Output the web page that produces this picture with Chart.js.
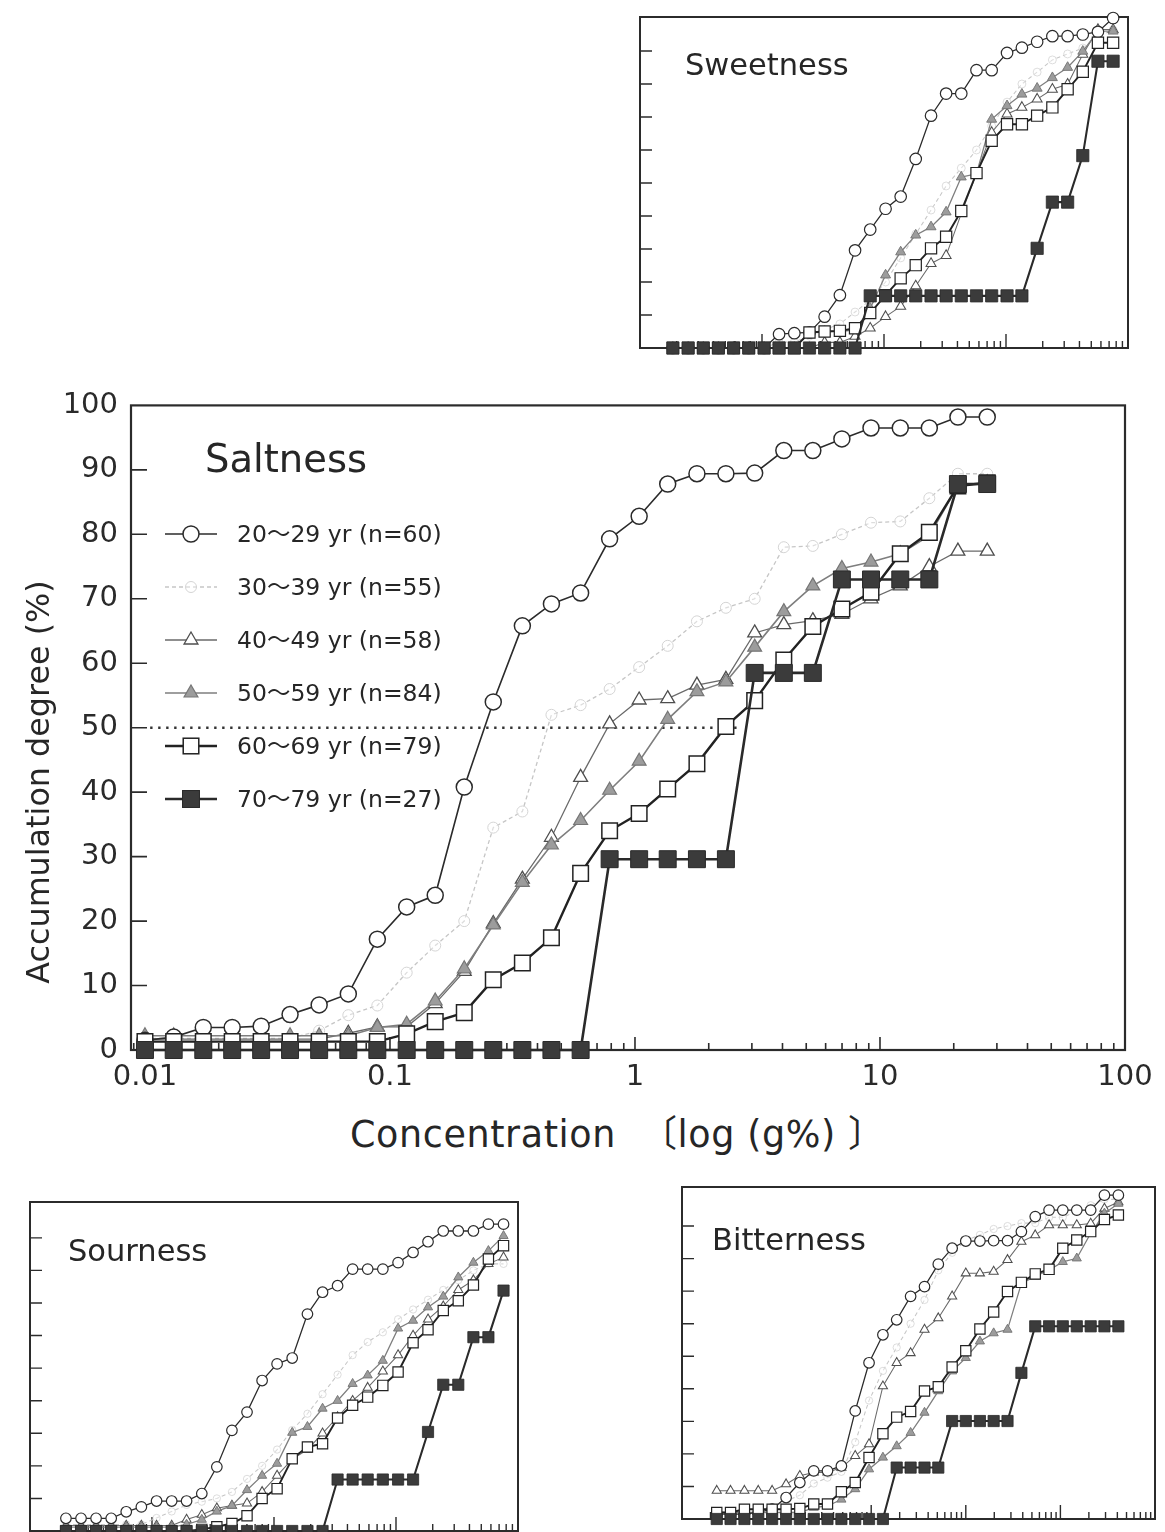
<!DOCTYPE html>
<html>
<head>
<meta charset="utf-8">
<title>Accumulation degree by age group</title>
<script src="https://cdn.jsdelivr.net/npm/chart.js@4.4.1/dist/chart.umd.min.js"></script>
<style>
  html, body { margin: 0; padding: 0; background: #fff; }
  body { position: relative; width: 1165px; height: 1532px; overflow: hidden;
         font-family: "DejaVu Sans", "Noto Sans CJK JP", sans-serif; color: #262626; }
  canvas { position: absolute; }
  .label { position: absolute; white-space: pre; line-height: 1; }
</style>
</head>
<body>
<canvas id="saltChart"></canvas>
<canvas id="sweetChart"></canvas>
<canvas id="sourChart"></canvas>
<canvas id="bitterChart"></canvas>

<div class="label" style="left:205px; top:440px; font-size:38.5px;">Saltness</div>
<div class="label" style="left:685px; top:50px; font-size:30.5px;">Sweetness</div>
<div class="label" style="left:68px; top:1236px; font-size:30.5px;">Sourness</div>
<div class="label" style="left:712px; top:1225px; font-size:30.5px;">Bitterness</div>
<div class="label" style="left:350px; top:1117px; font-size:36.5px; letter-spacing:0.6px;">Concentration  〔log (g%) 〕</div>
<div class="label" style="left:38px; top:782px; font-size:31.8px; transform: translate(-50%, -50%) rotate(-90deg);">Accumulation degree (%)</div>
<svg id="legendMarks" style="position:absolute; left:0; top:0;" width="1165" height="1532"></svg>

<script>
// ---------- data ----------
// concentration steps (g%) of each taste
const saltConc = [0.0100, 0.0131, 0.0173, 0.0227, 0.0298, 0.0391, 0.0514, 0.0676, 0.0888, 0.117,
                  0.153, 0.201, 0.264, 0.347, 0.456, 0.600, 0.788, 1.04, 1.36, 1.79,
                  2.35, 3.08, 4.05, 5.32, 6.99, 9.19, 12.1, 15.9, 20.8, 27.4];
const sweetConc = [0.0186, 0.0248, 0.0330, 0.0439, 0.0585, 0.0779, 0.104, 0.138, 0.184, 0.245,
                   0.326, 0.435, 0.579, 0.771, 1.03, 1.37, 1.82, 2.43, 3.23, 4.30,
                   5.73, 7.63, 10.2, 13.5, 18.0, 24.0, 32.0, 42.6, 56.7, 75.5];
const sourConc = [0.0197, 0.0262, 0.0348, 0.0463, 0.0615, 0.0818, 0.109, 0.145, 0.192, 0.256,
                  0.340, 0.452, 0.601, 0.799, 1.06, 1.41, 1.88, 2.50, 3.32, 4.41,
                  5.86, 7.80, 10.4, 13.8, 18.3, 24.4, 32.4, 43.1, 57.2, 76.1];
const bitterConc = [0.0000233, 0.0000326, 0.0000457, 0.0000640, 0.0000897, 0.000126, 0.000176, 0.000247, 0.000345, 0.000484,
                    0.000678, 0.000949, 0.00133, 0.00186, 0.00261, 0.00366, 0.00512, 0.00717, 0.0100, 0.0141,
                    0.0197, 0.0276, 0.0387, 0.0542, 0.0759, 0.106, 0.149, 0.209, 0.292, 0.410];

const ageGroups = ["20〜29 yr (n=60)", "30〜39 yr (n=55)", "40〜49 yr (n=58)",
                   "50〜59 yr (n=84)", "60〜69 yr (n=79)", "70〜79 yr (n=27)"];

// saltness (%)
const salt20 = [1.5, 2.0, 3.5, 3.5, 3.7, 5.5, 7.0, 8.7, 17.2, 22.2, 24.0, 40.8, 54.0, 65.8, 69.2, 70.9, 79.3, 82.8, 87.8, 89.4, 89.4, 89.5, 93.0, 93.0, 94.8, 96.5, 96.5, 96.5, 98.2, 98.2];
const salt30 = [1.8, 1.8, 1.8, 1.8, 1.8, 1.8, 3.0, 5.4, 6.9, 12.0, 16.2, 20.0, 34.5, 37.0, 52.0, 53.5, 56.0, 59.4, 62.7, 66.5, 68.6, 70.0, 78.0, 78.2, 80.0, 81.8, 82.0, 85.6, 89.4, 89.4];
const salt40 = [1.7, 1.7, 1.7, 1.7, 1.7, 1.7, 1.7, 2.6, 3.6, 3.6, 7.2, 12.2, 19.6, 26.5, 33.0, 42.3, 50.6, 54.3, 54.5, 56.6, 57.5, 64.7, 66.0, 66.6, 67.6, 70.0, 72.0, 75.0, 77.4, 77.4];
const salt50 = [2.2, 2.2, 2.2, 2.2, 2.2, 2.2, 2.2, 2.2, 3.5, 4.0, 7.6, 12.6, 19.4, 26.0, 31.8, 35.6, 40.3, 44.8, 51.3, 55.6, 57.1, 62.5, 68.0, 72.0, 74.7, 75.7, 77.0, 79.8, 87.5, 88.0];
const salt60 = [1.3, 1.3, 1.3, 1.3, 1.3, 1.3, 1.3, 1.3, 1.3, 2.5, 4.4, 5.8, 10.9, 13.5, 17.4, 27.4, 34.0, 36.7, 40.5, 44.4, 50.2, 54.2, 60.5, 65.7, 68.4, 71.0, 77.0, 80.3, 87.5, 88.0];
const salt70 = [0, 0, 0, 0, 0, 0, 0, 0, 0, 0, 0, 0, 0, 0, 0, 0, 29.6, 29.6, 29.6, 29.6, 29.6, 58.5, 58.5, 58.5, 73.0, 73.0, 73.0, 73.0, 87.8, 87.8];

// sweetness (%)
const sweet20 = [0, 0, 0, 0, 0, 0, 0, 4.2, 4.5, 4.7, 9.5, 16.0, 29.6, 35.9, 42.2, 45.9, 57.3, 70.4, 77.1, 77.1, 84.2, 84.2, 89.4, 91.0, 92.8, 94.5, 94.5, 95.0, 95.8, 100];
const sweet30 = [0, 0, 0, 0, 0, 0, 0, 1.8, 1.8, 3.6, 5.5, 7.3, 10.9, 14.5, 20.0, 27.3, 34.5, 41.8, 49.1, 54.5, 60.0, 67.3, 74.5, 80.0, 83.6, 87.3, 89.1, 90.9, 94.5, 96.4];
const sweet40 = [0, 0, 0, 0, 0, 0, 0, 0, 0, 0, 1.7, 1.7, 3.5, 6.0, 9.5, 12.6, 18.8, 25.6, 28.0, 40.7, 52.8, 65.3, 70.9, 72.9, 75.4, 78.4, 79.9, 89.0, 96.5, 96.5];
const sweet50 = [0, 0, 0, 0, 0, 0, 0, 0, 0, 4.5, 5.0, 5.0, 5.5, 12.0, 22.1, 29.1, 34.2, 36.7, 41.2, 51.8, 52.8, 69.3, 73.4, 76.9, 78.7, 81.9, 85.0, 89.9, 96.0, 96.0];
const sweet60 = [0, 0, 0, 0, 0, 0, 0, 0, 0, 4.7, 5.0, 5.2, 6.0, 10.6, 16.0, 21.1, 25.1, 30.2, 33.7, 41.5, 53.0, 62.8, 67.8, 67.8, 70.4, 72.9, 78.4, 83.7, 92.5, 92.5];
const sweet70 = [0, 0, 0, 0, 0, 0, 0, 0, 0, 0, 0, 0, 0, 15.8, 15.8, 15.8, 15.8, 15.8, 15.8, 15.8, 15.8, 15.8, 15.8, 15.8, 30.2, 44.2, 44.2, 58.3, 86.9, 86.9];

// sourness (%)
const sour20 = [3.9, 3.9, 3.9, 3.9, 5.9, 7.4, 9.2, 9.2, 9.2, 11.5, 19.7, 30.9, 36.5, 46.2, 51.3, 53.1, 66.6, 73.3, 75.3, 80.4, 80.4, 80.4, 82.4, 85.5, 88.8, 92.1, 92.1, 92.1, 94.2, 94.2];
const sour30 = [2.0, 2.0, 2.0, 2.0, 2.0, 2.0, 4.0, 6.0, 8.0, 9.0, 10.0, 12.0, 16.0, 20.0, 25.0, 31.0, 36.0, 42.0, 48.0, 54.0, 58.0, 61.0, 65.0, 68.0, 71.0, 74.0, 77.0, 80.0, 82.0, 82.0];
const sour40 = [1.7, 1.7, 1.7, 1.7, 1.7, 1.7, 1.7, 1.7, 3.5, 5.0, 7.0, 7.8, 8.5, 12.0, 17.0, 22.0, 25.0, 30.0, 35.0, 40.0, 44.0, 49.0, 54.0, 60.0, 65.0, 69.0, 74.0, 77.0, 82.0, 84.0];
const sour50 = [1.2, 1.2, 1.2, 1.2, 1.2, 1.2, 1.2, 1.2, 2.0, 3.5, 6.0, 7.8, 12.6, 17.0, 20.7, 30.2, 32.0, 37.6, 40.0, 45.2, 47.8, 52.3, 62.2, 64.6, 68.7, 72.0, 77.9, 82.4, 86.0, 90.6];
const sour60 = [0, 0, 0, 0, 0, 0, 0, 0, 0, 0.5, 1.3, 2.3, 4.7, 10.0, 13.0, 22.2, 25.8, 26.8, 34.7, 38.6, 41.1, 44.7, 48.8, 57.8, 61.8, 67.7, 70.7, 75.5, 83.5, 87.6];
const sour70 = [0, 0, 0, 0, 0, 0, 0, 0, 0, 0, 0, 0, 0, 0, 0, 0, 0, 0, 15.8, 15.8, 15.8, 15.8, 15.8, 15.8, 30.4, 44.9, 44.9, 59.5, 59.5, 73.8];

// bitterness (%)
const bit20 = [1.5, 1.5, 1.5, 2.0, 3.0, 6.6, 11.2, 14.8, 14.8, 16.3, 33.2, 48.0, 56.6, 61.2, 68.4, 71.4, 78.3, 83.2, 85.4, 85.4, 85.5, 85.5, 88.3, 92.9, 94.9, 94.9, 94.9, 94.9, 99.5, 99.5];
const bit30 = [1.8, 1.8, 1.8, 1.8, 3.6, 5.5, 7.3, 10.9, 12.7, 14.5, 23.6, 36.4, 45.5, 52.7, 60.0, 67.3, 76.4, 81.8, 85.5, 87.3, 89.1, 90.0, 90.9, 90.9, 92.7, 92.7, 94.5, 96.4, 98.2, 98.2];
const bit40 = [8.7, 8.7, 8.7, 8.7, 8.7, 10.7, 13.3, 14.3, 14.3, 15.8, 19.4, 23.0, 40.8, 48.0, 51.0, 58.2, 61.7, 68.4, 75.5, 75.5, 76.0, 79.6, 85.2, 87.2, 90.3, 90.3, 90.3, 90.8, 95.4, 97.4];
const bit50 = [2.0, 2.0, 2.0, 2.0, 2.0, 2.0, 2.0, 3.5, 4.0, 6.0, 9.2, 15.3, 18.9, 22.4, 26.5, 32.7, 39.3, 45.4, 49.5, 54.6, 57.1, 58.2, 72.4, 74.5, 76.5, 79.0, 80.1, 87.8, 93.9, 96.9];
const bit60 = [2.0, 2.0, 3.0, 3.0, 3.0, 3.0, 3.2, 4.6, 4.6, 8.4, 11.2, 18.9, 26.2, 31.3, 33.0, 39.3, 40.6, 46.7, 51.7, 58.4, 63.6, 69.9, 72.7, 75.3, 76.7, 83.2, 85.7, 88.3, 92.0, 93.4];
const bit70 = [0, 0, 0, 0, 0, 0, 0, 0, 0, 0, 0, 0, 0, 15.8, 15.8, 15.8, 15.8, 30.1, 30.1, 30.1, 30.1, 30.1, 44.9, 59.2, 59.2, 59.2, 59.2, 59.2, 59.2, 59.2];

// axis ticks
const saltXTicks = [0.01, 0.1, 1, 10, 100];
const saltYTicks = [0, 10, 20, 30, 40, 50, 60, 70, 80, 90, 100];
const innerYTicks = [10, 20, 30, 40, 50, 60, 70, 80, 90];

// 50 % reference (dotted)
const halfLineX = [0.0105, 2.68];
const halfLineY = [50, 50];

// ---------- styles ----------
const ageStyles = [
  { line: "#2b2b2b", width: 1.6, dash: [],     point: "circle",   fill: "#ffffff", edge: "#2b2b2b", edgeW: 1.5, r: 8,  order: 2 },
  { line: "#c6c6c6", width: 1.3, dash: [4, 3], point: "circle",   fill: "rgba(255,255,255,0.4)", edge: "#d4d4d4", edgeW: 1, r: 5.5, order: 5 },
  { line: "#6a6a6a", width: 1.3, dash: [],     point: "triangle", fill: "#ffffff", edge: "#4e4e4e", edgeW: 1.3, r: 8,  order: 4 },
  { line: "#7e7e7e", width: 1.6, dash: [],     point: "triangle", fill: "#9c9c9c", edge: "#767676", edgeW: 1.2, r: 8,  order: 3 },
  { line: "#222222", width: 2.4, dash: [],     point: "rect",     fill: "#ffffff", edge: "#222222", edgeW: 1.5, r: 11, order: 1 },
  { line: "#2a2a2a", width: 2.6, dash: [],     point: "rect",     fill: "#3b3b3b", edge: "#2a2a2a", edgeW: 1,   r: 12, order: 0 }
];

// frame + inward tick marks
const frameTicks = {
  id: "frameTicks",
  beforeDatasetsDraw(chart, args, opts) {
    const { ctx, chartArea: a, scales: { x, y } } = chart;
    ctx.save();
    ctx.strokeStyle = "#2b2b2b";
    ctx.lineWidth = opts.width;
    ctx.strokeRect(a.left, a.top, a.right - a.left, a.bottom - a.top);
    ctx.lineWidth = opts.tickWidth;
    ctx.beginPath();
    innerYTicks.forEach(v => {
      const py = y.getPixelForValue(v);
      ctx.moveTo(a.left, py);
      ctx.lineTo(a.left + opts.yLen, py);
    });
    const lo = Math.floor(Math.log10(x.min)), hi = Math.ceil(Math.log10(x.max));
    for (let e = lo; e <= hi; e++) {
      for (let m = 1; m <= 9; m++) {
        const v = m * Math.pow(10, e);
        if (v < x.min || v > x.max * 1.0001) continue;
        const px = x.getPixelForValue(v);
        ctx.moveTo(px, a.bottom);
        ctx.lineTo(px, a.bottom - (m === 1 ? opts.majorLen : opts.minorLen));
      }
    }
    ctx.stroke();
    ctx.restore();
  }
};

function buildDatasets(conc, seriesList, size, lineScale) {
  return seriesList.map((vals, g) => {
    const st = ageStyles[g];
    return {
      label: ageGroups[g],
      data: conc.map((x, i) => ({ x: x, y: vals[i] })),
      borderColor: st.line,
      borderWidth: st.width * lineScale,
      borderDash: st.dash,
      pointStyle: st.point,
      pointRadius: st.r * size,
      pointBackgroundColor: st.fill,
      pointBorderColor: st.edge,
      pointBorderWidth: st.edgeW * lineScale,
      tension: 0,
      order: st.order,
      clip: 18
    };
  });
}

// ---------- main chart: saltness ----------
const saltCanvas = document.getElementById("saltChart");
saltCanvas.width = 1165;
saltCanvas.height = 735;
saltCanvas.style.left = "0px";
saltCanvas.style.top = "375px";

const saltSets = buildDatasets(saltConc, [salt20, salt30, salt40, salt50, salt60, salt70], 1, 1);
saltSets.push({
  label: "50%",
  data: halfLineX.map((x, i) => ({ x: x, y: halfLineY[i] })),
  borderColor: "#333",
  borderWidth: 2.4,
  borderDash: [2.4, 5.6],
  pointRadius: 0,
  order: 6
});

const tickFont = { family: "'DejaVu Sans'", size: 29 };

new Chart(saltCanvas, {
  type: "line",
  data: { datasets: saltSets },
  options: {
    responsive: false,
    animation: false,
    events: [],
    layout: { padding: { top: 20, right: 40, left: 0, bottom: 0 } },
    plugins: {
      legend: { display: false },
      tooltip: { enabled: false },
      frameTicks: { width: 2.2, tickWidth: 1.6, yLen: 16, majorLen: 13, minorLen: 7 }
    },
    scales: {
      x: {
        type: "logarithmic", min: 0.00877, max: 100,
        afterBuildTicks: s => { s.ticks = saltXTicks.map(v => ({ value: v })); },
        afterFit: s => { s.height = 60; },
        grid: { display: false, drawTicks: false },
        border: { display: false },
        ticks: { color: "#2a2a2a", font: tickFont, padding: 10, maxRotation: 0, autoSkip: false,
                 callback: v => String(v) }
      },
      y: {
        type: "linear", min: 0, max: 100,
        afterBuildTicks: s => { s.ticks = saltYTicks.map(v => ({ value: v })); },
        afterFit: s => { s.width = 131; },
        grid: { display: false, drawTicks: false },
        border: { display: false },
        ticks: { color: "#2a2a2a", font: tickFont, padding: 13, callback: v => String(v) }
      }
    }
  },
  plugins: [frameTicks]
});

// ---------- inset charts ----------
function makePanel(id, box, xMin, xMax, yMax, conc, seriesList, size) {
  const pad = 18;
  const canvas = document.getElementById(id);
  canvas.width = box.right - box.left + 2 * pad;
  canvas.height = box.bottom - box.top + 2 * pad;
  canvas.style.left = (box.left - pad) + "px";
  canvas.style.top = (box.top - pad) + "px";
  new Chart(canvas, {
    type: "line",
    data: { datasets: buildDatasets(conc, seriesList, size, 0.8) },
    options: {
      responsive: false,
      animation: false,
      events: [],
      layout: { padding: pad },
      plugins: {
        legend: { display: false },
        tooltip: { enabled: false },
        frameTicks: { width: 2, tickWidth: 1.4, yLen: 12, majorLen: 14, minorLen: 7 }
      },
      scales: {
        x: { type: "logarithmic", display: false, min: xMin, max: xMax },
        y: { type: "linear", display: false, min: 0, max: yMax }
      }
    },
    plugins: [frameTicks]
  });
}

makePanel("sweetChart", { left: 640, top: 17, right: 1128, bottom: 348 }, 0.01, 100, 100.3,
          sweetConc, [sweet20, sweet30, sweet40, sweet50, sweet60, sweet70], 0.72);
makePanel("sourChart", { left: 30, top: 1202, right: 518, bottom: 1531 }, 0.01, 100, 101,
          sourConc, [sour20, sour30, sour40, sour50, sour60, sour70], 0.66);
makePanel("bitterChart", { left: 682, top: 1187, right: 1155, bottom: 1519 }, 0.00001, 1, 102,
          bitterConc, [bit20, bit30, bit40, bit50, bit60, bit70], 0.66);

// ---------- legend ----------
const svg = document.getElementById("legendMarks");
const NS = "http://www.w3.org/2000/svg";
function el(tag, attrs) {
  const e = document.createElementNS(NS, tag);
  for (const k in attrs) e.setAttribute(k, attrs[k]);
  svg.appendChild(e);
  return e;
}
ageGroups.forEach((name, g) => {
  const st = ageStyles[g];
  const cy = 534 + g * 53;
  el("line", { x1: 165, y1: cy, x2: 217, y2: cy, stroke: st.line, "stroke-width": st.width,
               "stroke-dasharray": st.dash.join(" ") || "none" });
  const cx = 191, r = st.r;
  const common = { fill: st.fill, stroke: st.edge, "stroke-width": st.edgeW };
  if (st.point === "circle") {
    el("circle", Object.assign({ cx: cx, cy: cy, r: r }, common));
  } else if (st.point === "triangle") {
    const pts = [[cx, cy - r], [cx + 0.866 * r, cy + 0.5 * r], [cx - 0.866 * r, cy + 0.5 * r]];
    el("polygon", Object.assign({ points: pts.map(p => p.join(",")).join(" ") }, common));
  } else {
    const h = r * Math.SQRT1_2;
    el("rect", Object.assign({ x: cx - h, y: cy - h, width: 2 * h, height: 2 * h }, common));
  }
  const div = document.createElement("div");
  div.className = "label";
  div.style.left = "237px";
  div.style.top = (cy + 9 - 19.9) + "px";
  div.style.fontSize = "23.5px";
  div.textContent = name;
  document.body.appendChild(div);
});
</script>
</body>
</html>
